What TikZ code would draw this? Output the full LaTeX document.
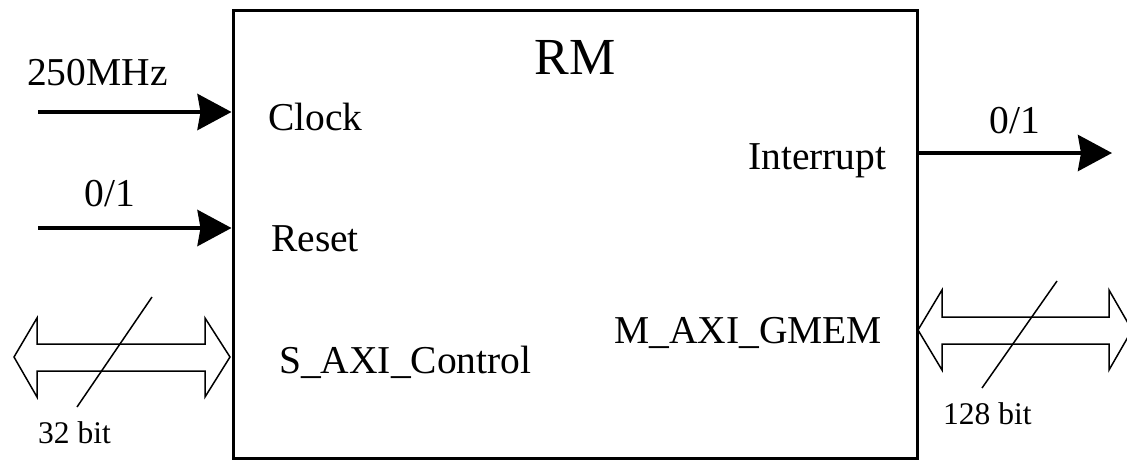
\documentclass[tikz,border=0pt]{standalone}
\usepackage{fontspec}
\setmainfont{Liberation Serif}
\usetikzlibrary{arrows.meta}
\tikzset{
  sig/.style={line width=4pt, -{Stealth[length=34pt,width=36pt,inset=3pt]}},
  lbl/.style={inner sep=0pt, anchor=base west, font=\fontsize{39.5}{41}\selectfont},
  lblc/.style={inner sep=0pt, anchor=base, font=\fontsize{39.5}{41}\selectfont},
  small/.style={inner sep=0pt, anchor=base west, font=\fontsize{31.5}{33}\selectfont},
  bus/.style={line width=1.5pt, line join=miter, fill=white},
  slash/.style={line width=1.5pt}
}
\begin{document}
\begin{tikzpicture}[x=1pt,y=-1pt]
\useasboundingbox (0,0) rectangle (1127,461);
\fill[white] (0,0) rectangle (1127,461);
% main box
\node[draw, line width=3pt, minimum width=684pt, minimum height=448pt, inner sep=0pt] (rm) at (575,234) {};
\node[inner sep=0pt, anchor=base, font=\fontsize{52}{54}\selectfont] (title) at (575,74) {RM};
% inner labels
\node[lbl] (clk) at (268,130) {Clock};
\node[lbl] (rst) at (271,251) {Reset};
\node[lbl] (saxi) at (279,373) {S\_AXI\_Control};
\node[lbl] (intr) at (748,169) {Interrupt};
\node[lbl] (maxi) at (614,343) {M\_AXI\_GMEM};
% inputs
\coordinate (clkin) at (38,112);
\coordinate (rstin) at (38,228);
\draw[sig] (clkin) -- (rm.west |- clkin);
\draw[sig] (rstin) -- (rm.west |- rstin);
\node[lbl] (mhz) at (27,85) {250MHz};
\node[lblc] (rstv) at (110,206) {0/1};
% output
\coordinate (intout) at (1112,153);
\draw[sig] (rm.east |- intout) -- (intout);
\node[lblc] (intv) at (1015,133) {0/1};
% left bus
\draw[bus] (14,357) -- (37,318) -- (37,344) -- (205,344) -- (205,318) -- (230,357)
  -- (205,397) -- (205,371) -- (37,371) -- (37,397) -- cycle;
\coordinate (ls1) at (152,297);
\coordinate (ls2) at (77,407);
\draw[slash] (ls1) -- (ls2);
\node[small] (b32) at (38,443) {32 bit};
% right bus
\draw[bus] (918,330) -- (942,290) -- (942,317) -- (1109,317) -- (1109,290) -- (1132,330)
  -- (1109,370) -- (1109,344) -- (942,344) -- (942,370) -- cycle;
\coordinate (rs1) at (1057,281);
\coordinate (rs2) at (982,388);
\draw[slash] (rs1) -- (rs2);
\node[small] (b128) at (943,424) {128 bit};
\end{tikzpicture}
\end{document}
